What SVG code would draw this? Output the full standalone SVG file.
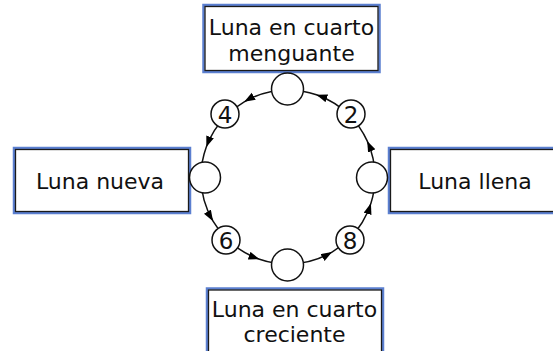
<svg xmlns="http://www.w3.org/2000/svg" width="553" height="351" viewBox="0 0 553 351">
<defs>
<style>
.bo{fill:none;stroke:#5b7fd0;stroke-width:2.5}
.bi{fill:#fff;stroke:#1a1a1a;stroke-width:1.3}
.t{font-family:"DejaVu Sans","Verdana",sans-serif;font-size:22px;fill:#111;text-anchor:middle}
.n{font-family:"DejaVu Sans","Verdana",sans-serif;font-size:23px;fill:#111;text-anchor:middle}
.c{fill:#fff;stroke:#111;stroke-width:1.5}
.e{fill:none;stroke:#111;stroke-width:1.5;marker-mid:url(#ah)}
</style>
<marker id="ah" markerUnits="userSpaceOnUse" markerWidth="13" markerHeight="10" refX="11" refY="4" orient="auto">
<path d="M0,0 L11,4 L0,8 z" fill="#000"/>
</marker>
</defs>
<rect width="553" height="351" fill="#fff"/>
<g id="connectors">
<path class="e" d="M349.52,115.48 A87,87 0 0 0 316.4,94.77 A87,87 0 0 0 288,90"/>
<path class="e" d="M288,90 A87,87 0 0 0 244.24,101.81 A87,87 0 0 0 226.48,115.48"/>
<path class="e" d="M226.48,115.48 A87,87 0 0 0 206.3,147.1 A87,87 0 0 0 201,177"/>
<path class="e" d="M201,177 A87,87 0 0 0 213.04,221.15 A87,87 0 0 0 226.48,238.52"/>
<path class="e" d="M226.48,238.52 A87,87 0 0 0 259.53,259.21 A87,87 0 0 0 288,264"/>
<path class="e" d="M288,264 A87,87 0 0 0 332.02,252.04 A87,87 0 0 0 349.52,238.52"/>
<path class="e" d="M349.52,238.52 A87,87 0 0 0 370.93,203.31 A87,87 0 0 0 375,177"/>
<path class="e" d="M375,177 A87,87 0 0 0 367.17,140.92 A87,87 0 0 0 349.52,115.48"/>
</g>
<g id="box-menguante">
<rect class="bo" x="203.5" y="5" width="176" height="67"/>
<rect class="bi" x="205" y="6.5" width="173" height="64"/>
<text class="t" x="291.5" y="35">Luna en cuarto</text>
<text class="t" x="291.5" y="61">menguante</text>
</g>
<g id="box-nueva">
<rect class="bo" x="14" y="148" width="176" height="65"/>
<rect class="bi" x="15.5" y="149.5" width="173" height="62"/>
<text class="t" x="100" y="189">Luna nueva</text>
</g>
<g id="box-llena">
<rect class="bo" x="389" y="148" width="176" height="65"/>
<rect class="bi" x="390.5" y="149.5" width="173" height="62"/>
<text class="t" x="475" y="188.5">Luna llena</text>
</g>
<g id="box-creciente">
<rect class="bo" x="207" y="288.5" width="176" height="67"/>
<rect class="bi" x="208.5" y="290" width="173" height="64"/>
<text class="t" x="294.5" y="317">Luna en cuarto</text>
<text class="t" x="294.5" y="342">creciente</text>
</g>
<g id="node-top"><circle class="c" cx="287.5" cy="89" r="16"/></g>
<g id="node-left"><circle class="c" cx="205" cy="177.5" r="15.5"/></g>
<g id="node-right"><circle class="c" cx="372" cy="177.5" r="15.5"/></g>
<g id="node-bottom"><circle class="c" cx="287.5" cy="265" r="16"/></g>
<g id="node-2"><circle class="c" cx="351" cy="114" r="14"/><text class="n" x="351" y="122.5">2</text></g>
<g id="node-4"><circle class="c" cx="225" cy="114" r="14"/><text class="n" x="225" y="122.5">4</text></g>
<g id="node-6"><circle class="c" cx="226" cy="240" r="14"/><text class="n" x="226" y="248.5">6</text></g>
<g id="node-8"><circle class="c" cx="350" cy="240" r="14"/><text class="n" x="350" y="248.5">8</text></g>
</svg>
